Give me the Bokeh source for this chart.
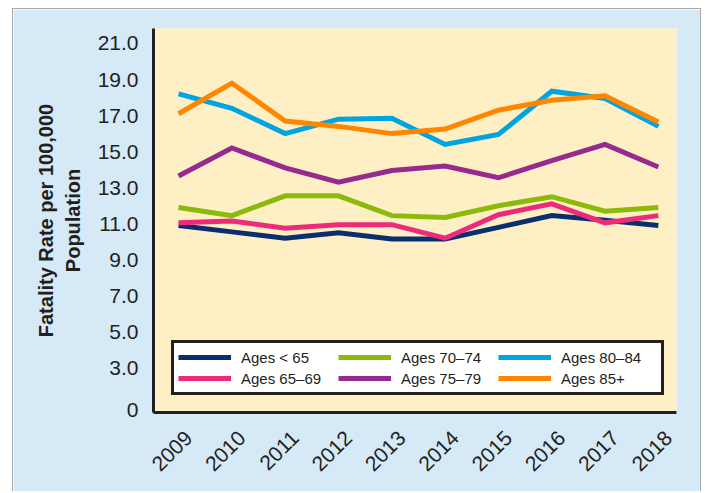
import math
from bokeh.plotting import figure
from bokeh.layouts import row, column
from bokeh.models import Legend, LegendItem, FixedTicker, Spacer
from bokeh.embed import file_html
from bokeh.resources import INLINE

years = [2009, 2010, 2011, 2012, 2013, 2014, 2015, 2016, 2017, 2018]

ages_lt65 = [10.9, 10.55, 10.2, 10.5, 10.15, 10.15, 10.8, 11.45, 11.2, 10.9]
ages_65_69 = [11.05, 11.15, 10.75, 10.95, 10.95, 10.2, 11.5, 12.1, 11.05, 11.45]
ages_70_74 = [11.9, 11.45, 12.55, 12.55, 11.45, 11.35, 12.0, 12.5, 11.7, 11.9]
ages_75_79 = [13.65, 15.2, 14.1, 13.3, 13.95, 14.2, 13.55, 14.5, 15.4, 14.15]
ages_80_84 = [18.2, 17.4, 16.0, 16.8, 16.85, 15.4, 15.95, 18.35, 17.95, 16.4]
ages_85p = [17.1, 18.8, 16.7, 16.4, 16.0, 16.25, 17.3, 17.85, 18.1, 16.65]

series_labels = ["Ages < 65", "Ages 65–69", "Ages 70–74", "Ages 75–79", "Ages 80–84", "Ages 85+"]
series_values = [ages_lt65, ages_65_69, ages_70_74, ages_75_79, ages_80_84, ages_85p]
series_colors = ["#0A2F6E", "#EE2A7B", "#8CBA0A", "#952A8F", "#00A4E1", "#FF8700"]

y_ticks = [0.65, 3, 5, 7, 9, 11, 13, 15, 17, 19, 21]
y_tick_labels = ["0", "3.0", "5.0", "7.0", "9.0", "11.0", "13.0", "15.0", "17.0", "19.0", "21.0"]

x_label_shift = 0.19  # rotated labels sit slightly right of each year

FONT = "Liberation Sans"

p = figure(width=689, height=483, x_range=(2008.53, 2018.34), y_range=(0.53, 21.83),
           output_backend="svg", toolbar_location=None,
           min_border_left=140, min_border_right=26, min_border_top=19, min_border_bottom=80)
p.styles = {"border": "1px solid #a9a9a9", "border-bottom": "none"}
p.background_fill_color = "#FFEFC4"
p.border_fill_color = "#D5E9F7"
p.outline_line_color = None
p.grid.visible = False

renderers = []
for vals, col in zip(series_values, series_colors):
    r = p.line(years, vals, line_width=5, line_color=col, line_join="miter")
    renderers.append(r)

items = [LegendItem(label=lab, renderers=[r]) for lab, r in zip(series_labels, renderers)]
legend = Legend(items=items, nrows=2, location=(18, 17),
                glyph_width=53, glyph_height=20, label_height=20, label_width=96,
                label_standoff=10, spacing=1, padding=4, margin=0,
                label_text_font=FONT, label_text_font_size="15px", label_text_color="#231F20",
                border_line_color="#231F20", border_line_width=3, border_line_alpha=1.0,
                background_fill_color="white", background_fill_alpha=1.0)
p.add_layout(legend)

for ax in (p.xaxis, p.yaxis):
    ax.axis_line_color = "#231F20"
    ax.axis_line_width = 3
    ax.major_tick_line_color = None
    ax.minor_tick_line_color = None
    ax.major_label_text_font = FONT
    ax.major_label_text_font_size = "21px"
    ax.major_label_text_color = "#231F20"

p.yaxis.ticker = FixedTicker(ticks=y_ticks)
p.yaxis.major_label_overrides = {t: l for t, l in zip(y_ticks, y_tick_labels)}
p.yaxis.major_label_standoff = 9
p.yaxis.axis_label = "Fatality Rate per 100,000\nPopulation"
p.yaxis.axis_label_text_font = FONT
p.yaxis.axis_label_text_font_style = "bold"
p.yaxis.axis_label_text_font_size = "20px"
p.yaxis.axis_label_text_color = "#231F20"
p.yaxis.axis_label_standoff = 11

x_ticks = [y + x_label_shift for y in years]
p.xaxis.ticker = FixedTicker(ticks=x_ticks)
p.xaxis.major_label_overrides = {t: str(y) for t, y in zip(x_ticks, years)}
p.xaxis.major_label_orientation = math.pi / 4
p.xaxis.major_label_standoff = 16

layout = column(Spacer(width=10, height=8), row(Spacer(width=12, height=10), p))
open("out.html", "w").write(file_html(layout, INLINE))
